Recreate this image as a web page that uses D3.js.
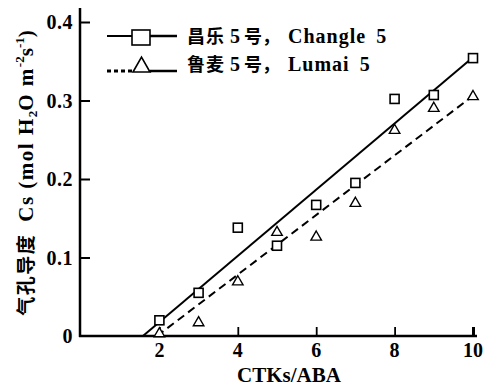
<!DOCTYPE html>
<html><head><meta charset="utf-8">
<script src="https://cdn.jsdelivr.net/npm/d3@7"></script>
<style>body{margin:0;background:#fff}svg{display:block}text{fill:#000}</style>
</head><body>
<script>
const xTicks = [2, 4, 6, 8, 10];
const yTicks = [0, 0.1, 0.2, 0.3, 0.4];
const yTickLabels = ["0", "0.1", "0.2", "0.3", "0.4"];
const ctkAba = [2, 3, 4, 5, 6, 7, 8, 9, 10];
const changle5 = [0.020, 0.055, 0.138, 0.115, 0.167, 0.195, 0.302, 0.307, 0.354];
const lumai5 = [0.003, 0.017, 0.069, 0.132, 0.126, 0.169, 0.262, 0.290, 0.305];
const changleFitX = [1.58, 10]; const changleFitY = [0, 0.355];
const lumaiFitX = [1.94, 10]; const lumaiFitY = [0, 0.306];

const W = 489, H = 388;
const svg = d3.select("body").append("svg").attr("width", W).attr("height", H);
const x = d3.scaleLinear().domain([0, 10]).range([81, 473]);
const y = d3.scaleLinear().domain([0, 0.4]).range([336, 22]);
const serif = "'Liberation Serif','Times New Roman',serif";
const cjk = "'Noto Sans CJK SC'";

// axes lines
svg.append("line").attr("x1", 80).attr("x2", 80).attr("y1", 8).attr("y2", 337)
  .attr("stroke", "#000").attr("stroke-width", 2.5);
svg.append("line").attr("x1", 79).attr("x2", 477).attr("y1", 336).attr("y2", 336)
  .attr("stroke", "#000").attr("stroke-width", 2.5);

// y ticks (inward)
const yAxis = d3.axisRight(y).tickValues(yTicks).tickSize(10).tickFormat("");
const gy = svg.append("g").attr("transform", "translate(80,0)").call(yAxis);
gy.select(".domain").remove();
gy.selectAll(".tick line").attr("stroke-width", 2);
gy.selectAll(".tick").filter(d => d === 0).remove();
yTicks.forEach((t, i) => {
  svg.append("text").attr("x", 73).attr("y", y(t) + 7).attr("text-anchor", "end")
    .attr("font-family", serif).attr("font-weight", "bold").attr("font-size", 20)
    .attr("letter-spacing", 0.5).text(yTickLabels[i]);
});

// x ticks (inward)
const xAxis = d3.axisTop(x).tickValues(xTicks).tickSize(9).tickFormat("");
const gx = svg.append("g").attr("transform", "translate(0,336)").call(xAxis);
gx.select(".domain").remove();
gx.selectAll(".tick line").attr("stroke-width", d => d === 10 ? 3 : 1.8);
xTicks.forEach(t => {
  svg.append("text").attr("x", x(t)).attr("y", 357).attr("text-anchor", "middle")
    .attr("font-family", serif).attr("font-weight", "bold").attr("font-size", 20)
    .text(t);
});
svg.append("text").attr("x", 289).attr("y", 382).attr("text-anchor", "middle")
  .attr("font-family", serif).attr("font-weight", "bold").attr("font-size", 21)
  .text("CTKs/ABA");

// y label
const yl = svg.append("text").attr("transform", "translate(33,173) rotate(-90)")
  .attr("text-anchor", "middle").attr("font-family", serif).attr("font-weight", "bold")
  .attr("font-size", 21);
yl.append("tspan").attr("font-family", cjk).attr("font-weight", "bold").attr("font-size", 19)
  .attr("letter-spacing", 1.5).text("气孔导度");
yl.append("tspan").attr("letter-spacing", 1.5).text("\u2002Cs (mol H");
yl.append("tspan").attr("font-size", 13).attr("dy", 4).text("2");
yl.append("tspan").attr("dy", -4).attr("letter-spacing", 1.5).text("O m");
yl.append("tspan").attr("font-size", 13).attr("dy", -9).text("-2");
yl.append("tspan").attr("dy", 9).text("s");
yl.append("tspan").attr("font-size", 13).attr("dy", -9).text("-1");
yl.append("tspan").attr("dy", 9).text(")");

// fit lines
const line = d3.line().x(d => x(d[0])).y(d => y(d[1]));
svg.append("path").datum(changleFitX.map((v, i) => [v, changleFitY[i]]))
  .attr("d", line).attr("fill", "none").attr("stroke", "#000").attr("stroke-width", 2);
svg.append("path").datum(lumaiFitX.map((v, i) => [v, lumaiFitY[i]]))
  .attr("d", line).attr("fill", "none").attr("stroke", "#000").attr("stroke-width", 2)
  .attr("stroke-dasharray", "8,5");

// markers
const sq = 9;
svg.selectAll("rect.c").data(ctkAba.map((v, i) => [v, changle5[i]])).enter().append("rect")
  .attr("x", d => x(d[0]) - sq / 2).attr("y", d => y(d[1]) - sq / 2)
  .attr("width", sq).attr("height", sq).attr("fill", "#fff")
  .attr("stroke", "#000").attr("stroke-width", 1.6);
const tri = d3.symbol().type(d3.symbolTriangle).size(48);
svg.selectAll("path.l").data(ctkAba.map((v, i) => [v, lumai5[i]])).enter().append("path")
  .attr("d", tri).attr("transform", d => `translate(${x(d[0])},${y(d[1])})`)
  .attr("fill", "#fff").attr("stroke", "#000").attr("stroke-width", 1.4);

// legend
const lg = svg.append("g");
const rows = [{y: 36, ty: 43, dash: null, w: 2, cn: ["昌乐", "号，"], en: "Changle", sym: "sq"},
              {y: 71, ty: 71, dash: "4,3", w: 3, cn: ["鲁麦", "号，"], en: "Lumai", sym: "tri"}];
rows.forEach(r => {
  lg.append("line").attr("x1", 107).attr("x2", 133).attr("y1", r.y).attr("y2", r.y)
    .attr("stroke", "#000").attr("stroke-width", r.w).attr("stroke-dasharray", r.dash);
  lg.append("line").attr("x1", 150).attr("x2", 177).attr("y1", r.y).attr("y2", r.y)
    .attr("stroke", "#000").attr("stroke-width", 2.5);
  if (r.sym === "sq") {
    lg.append("rect").attr("x", 132).attr("y", 30).attr("width", 18).attr("height", 15)
      .attr("fill", "#fff").attr("stroke", "#000").attr("stroke-width", 1.6);
  } else {
    lg.append("path").attr("d", `M133,${r.y + 1}L141.5,${r.y - 14}L150,${r.y + 1}Z`)
      .attr("fill", "#fff").attr("stroke", "#000").attr("stroke-width", 1.6);
  }
  const t = lg.append("text").attr("x", 187).attr("y", r.ty)
    .attr("font-family", serif).attr("font-weight", "bold").attr("font-size", 20);
  t.append("tspan").attr("font-family", cjk).attr("font-size", 18).attr("letter-spacing", 1).text(r.cn[0]);
  t.append("tspan").attr("dx", 5).text("5");
  t.append("tspan").attr("dx", 4).attr("font-family", cjk).attr("font-size", 18).text(r.cn[1]);
  t.append("tspan").attr("dx", 8).attr("letter-spacing", 1).text(r.en);
  t.append("tspan").attr("dx", 10).text("5");
});
</script>
</body></html>
